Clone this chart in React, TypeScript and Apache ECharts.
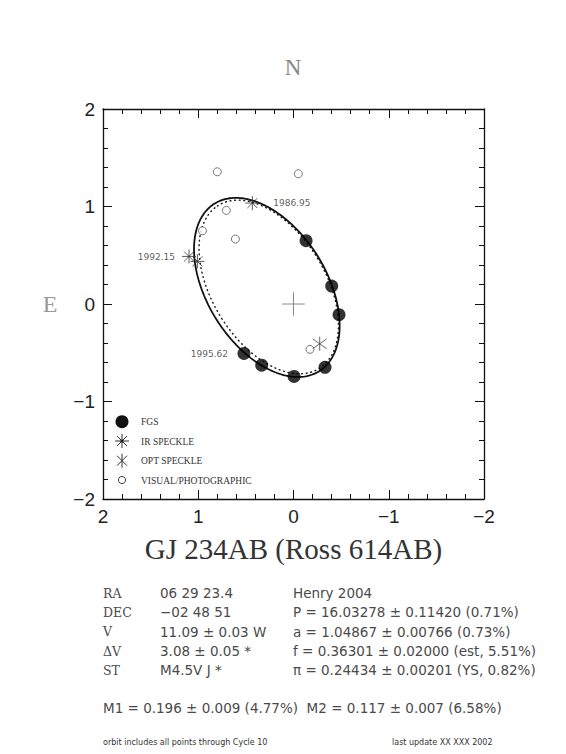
import React, { useEffect, useRef } from "react";
import * as echarts from "echarts";

// ---- data (arcsec offsets) ----
const FGS_X = [-0.132, -0.401, -0.478, -0.331, -0.006, 0.334, 0.52];
const FGS_Y = [0.649, 0.184, -0.109, -0.649, -0.743, -0.627, -0.507];
const IR_X = [0.432, 1.097, 1.009];
const IR_Y = [1.035, 0.488, 0.437];
const OPT_X = [-0.275];
const OPT_Y = [-0.408];
const VIS_X = [0.8, -0.051, 0.705, 0.956, 0.61, -0.173];
const VIS_Y = [1.356, 1.336, 0.96, 0.751, 0.666, -0.465];

// apparent orbit ellipses: [centerX, centerY, semiMajor, semiMinor, angleDeg]
const ORBIT_SOLID = [0.28, 0.17, 1.02, 0.6225, 56.7];
const ORBIT_DOTTED = [0.26, 0.175, 0.99, 0.59, 57];

// epoch labels: [text, series, index]
const EPOCH_LABELS: [string, string, number][] = [
  ["1986.95", "IR", 0],
  ["1992.15", "IR", 1],
  ["1995.62", "FGS", 6],
];

const CROSS_H = [[0.12, 0], [-0.12, 0]];
const CROSS_V = [[0, 0.12], [0, -0.12]];

const LEGEND_LABELS = ["FGS", "IR SPECKLE", "OPT SPECKLE", "VISUAL/PHOTOGRAPHIC"];

const INFO_LEFT = ["RA", "DEC", "V", "\u0394V", "ST"];
const INFO_MID = ["06 29 23.4", "\u221202 48 51", "11.09 \u00b1 0.03 W", "3.08 \u00b1 0.05 *", "M4.5V J *"];
const INFO_RIGHT = [
  "Henry 2004",
  "P = 16.03278 \u00b1 0.11420 (0.71%)",
  "a = 1.04867 \u00b1 0.00766 (0.73%)",
  "f = 0.36301 \u00b1 0.02000 (est, 5.51%)",
  "\u03c0 = 0.24434 \u00b1 0.00201 (YS, 0.82%)",
];
const MASS_LINE = "M1 = 0.196 \u00b1 0.009 (4.77%)  M2 = 0.117 \u00b1 0.007 (6.58%)";
const FOOT_LEFT = "orbit includes all points through Cycle 10";
const FOOT_RIGHT = "last update XX XXX 2002";
const TITLE = "GJ 234AB (Ross 614AB)";

function ellipse(p: number[]) {
  const [cx, cy, a, b, deg] = p;
  const th = (deg * Math.PI) / 180;
  const pts: number[][] = [];
  const n = 240;
  for (let i = 0; i <= n; i++) {
    const t = (2 * Math.PI * i) / n;
    pts.push([
      cx + a * Math.cos(th) * Math.cos(t) - b * Math.sin(th) * Math.sin(t),
      cy + a * Math.sin(th) * Math.cos(t) + b * Math.cos(th) * Math.sin(t),
    ]);
  }
  return pts;
}

const zip = (xs: number[], ys: number[]) => xs.map((x, i) => [x, ys[i]]);

const IR_PATH = "path://M0,-10L0,10M-10,0L10,0M-7.07,-7.07L7.07,7.07M-7.07,7.07L7.07,-7.07";
const OPT_PATH = "path://M0,-10L0,10M-7,-7L7,7M-7,7L7,-7";

const fmt = (v: number) => (v < 0 ? "\u2212" + Math.abs(v) : String(v));

export default function App() {
  const ref = useRef<HTMLDivElement>(null);
  useEffect(() => {
    if (!ref.current) return;
    const chart = echarts.init(ref.current, undefined, { renderer: "svg" });

    const G = { left: 103, top: 109, width: 381, height: 390 };
    const axisCommon = (pos: string, showLabel: boolean, inverse: boolean) => ({
      type: "value",
      min: -2,
      max: 2,
      interval: 1,
      inverse,
      position: pos,
      axisLine: { show: true, onZero: false, lineStyle: { color: "#111", width: 1.3 } },
      axisTick: { show: true, inside: true, length: 9, lineStyle: { color: "#111", width: 1 } },
      minorTick: { show: true, splitNumber: 5, length: 5, lineStyle: { color: "#111", width: 1 } },
      splitLine: { show: false },
      minorSplitLine: { show: false },
      axisLabel: {
        show: showLabel,
        formatter: fmt,
        fontFamily: "Liberation Sans",
        fontSize: 19,
        color: "#222",
        margin: 8,
      },
    });

    const labelData = EPOCH_LABELS.map(([text, s, i]) => {
      const x = s === "IR" ? IR_X[i] : FGS_X[i];
      const y = s === "IR" ? IR_Y[i] : FGS_Y[i];
      const right = text === "1986.95";
      return {
        value: [x, y],
        label: {
          show: true,
          formatter: text,
          position: right ? "right" : "left",
          distance: right ? 21 : text === "1992.15" ? 14 : 16,
          fontFamily: "DejaVu Sans",
          fontSize: 9,
          color: "#333",
          offset: [0, text === "1986.95" ? 0 : 1],
        },
      };
    });

    const textEl = (x: number, y: number, text: string, font: string, size: number, fill = "#333", align = "left") => ({
      type: "text",
      x,
      y,
      silent: true,
      style: { text, fontFamily: font, fontSize: size, fill, textAlign: align, textVerticalAlign: "middle" },
    });

    const rows = [593.3, 612.3, 631.7, 651, 670];
    const graphics: any[] = [
      textEl(293, 67, "N", "Liberation Serif", 23, "#888", "center"),
      textEl(50, 304, "E", "Liberation Serif", 24, "#999", "center"),
      textEl(293.5, 549, TITLE, "Liberation Serif", 29, "#333", "center"),
      textEl(103, 707.7, MASS_LINE, "DejaVu Sans", 13.5, "#4a4a4a"),
      textEl(103, 742, FOOT_LEFT, "DejaVu Sans", 8, "#333"),
      textEl(392, 742, FOOT_RIGHT, "DejaVu Sans", 8, "#333"),
    ];
    rows.forEach((y, i) => {
      graphics.push(textEl(103, y, INFO_LEFT[i], "DejaVu Serif", 12.5, "#4a4a4a"));
      graphics.push(textEl(160, y, INFO_MID[i], "DejaVu Sans", 13.5, "#4a4a4a"));
      graphics.push(textEl(293, y, INFO_RIGHT[i], "DejaVu Sans", 13.5, "#4a4a4a"));
    });
    // legend
    const lx = 122;
    const ly = [421.7, 441, 460.7, 480];
    graphics.push({ type: "circle", shape: { cx: lx, cy: ly[0], r: 6.5 }, style: { fill: "#111" } });
    const star = (cy: number, angles: number[], r: number) =>
      angles.map((a) => {
        const t = (a * Math.PI) / 180;
        return {
          type: "line",
          shape: { x1: lx - r * Math.cos(t), y1: cy - r * Math.sin(t), x2: lx + r * Math.cos(t), y2: cy + r * Math.sin(t) },
          style: { stroke: "#333", lineWidth: 1 },
        };
      });
    graphics.push(...star(ly[1], [0, 45, 90, 135], 7));
    graphics.push({ type: "circle", shape: { cx: lx, cy: ly[1], r: 1.5 }, style: { fill: "#111" } });
    graphics.push(...star(ly[2], [90, 45, 135], 7));
    graphics.push({ type: "circle", shape: { cx: lx, cy: ly[3], r: 3.6 }, style: { fill: "none", stroke: "#444", lineWidth: 1 } });
    LEGEND_LABELS.forEach((t, i) => graphics.push(textEl(141, ly[i] + 0.5, t, "Liberation Serif", 9.5, "#333")));

    chart.setOption({
      animation: false,
      backgroundColor: "#fff",
      grid: G,
      xAxis: [axisCommon("bottom", true, true), axisCommon("top", false, true)],
      yAxis: [axisCommon("left", true, false), axisCommon("right", false, false)],
      series: [
        {
          type: "line",
          data: ellipse(ORBIT_DOTTED),
          showSymbol: false,
          symbol: "none",
          lineStyle: { color: "#111", width: 1.4, type: [0.8, 3.8], cap: "round" },
          z: 1,
          silent: true,
        },
        {
          type: "line",
          data: ellipse(ORBIT_SOLID),
          showSymbol: false,
          symbol: "none",
          lineStyle: { color: "#111", width: 1.8 },
          z: 2,
          silent: true,
        },
        { type: "line", data: CROSS_H, symbol: "none", lineStyle: { color: "#888", width: 1 }, silent: true },
        { type: "line", data: CROSS_V, symbol: "none", lineStyle: { color: "#888", width: 1 }, silent: true },
        {
          name: "FGS",
          type: "scatter",
          data: zip(FGS_X, FGS_Y),
          symbol: "circle",
          symbolSize: 13,
          itemStyle: { color: "#000" },
          z: 5,
        },
        {
          name: "IR SPECKLE",
          type: "scatter",
          data: zip(IR_X, IR_Y),
          symbol: IR_PATH,
          symbolSize: 14,
          itemStyle: { color: "transparent", borderColor: "#333", borderWidth: 1 },
          z: 5,
        },
        {
          name: "OPT SPECKLE",
          type: "scatter",
          data: zip(OPT_X, OPT_Y),
          symbol: OPT_PATH,
          symbolSize: 14,
          itemStyle: { color: "transparent", borderColor: "#444", borderWidth: 1 },
          z: 5,
        },
        {
          name: "VISUAL/PHOTOGRAPHIC",
          type: "scatter",
          data: zip(VIS_X, VIS_Y),
          symbol: "circle",
          symbolSize: 8,
          itemStyle: { color: "#fff", borderColor: "#555", borderWidth: 1 },
          z: 4,
        },
        {
          type: "scatter",
          data: labelData,
          symbolSize: 0,
          silent: true,
          z: 6,
        },
      ],
      graphic: graphics,
    });
    return () => chart.dispose();
  }, []);
  return <div ref={ref} style={{ position: "absolute", left: 0, top: 0, width: 566, height: 754 }} />;
}
